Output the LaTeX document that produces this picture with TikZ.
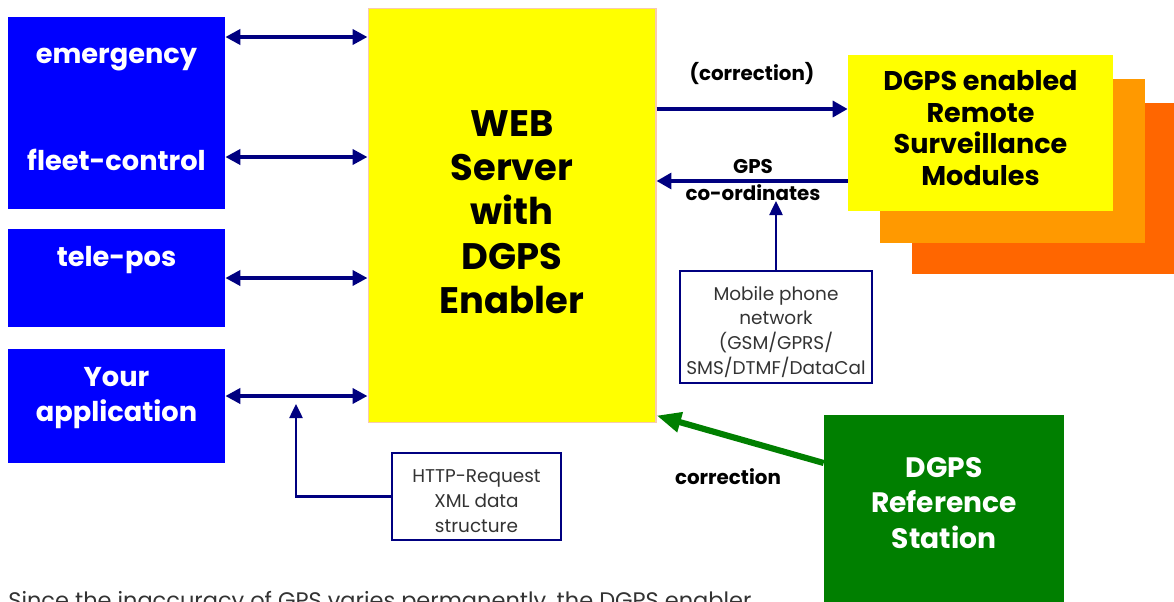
\documentclass[tikz,border=0pt]{standalone}
\usepackage{fontspec}
\setmainfont{Poppins}
\usetikzlibrary{arrows.meta}

\definecolor{appblue}{HTML}{0000FF}
\definecolor{arrownavy}{HTML}{000080}
\definecolor{webyellow}{HTML}{FFFF00}
\definecolor{peach}{HTML}{F8CBAD}
\definecolor{modorange}{HTML}{FF9900}
\definecolor{modred}{HTML}{FF6600}
\definecolor{refgreen}{HTML}{007F00}
\definecolor{thintext}{HTML}{333333}

\tikzset{
  appbox/.style={fill=appblue, minimum width=4.34cm, inner sep=0pt},
  applabel/.style={text=white, font=\bfseries\fontsize{15.5}{19.5}\selectfont, align=center},
  dbl/.style={arrownavy, line width=2.2pt, {Triangle[length=8.5pt,width=8.5pt]}-{Triangle[length=8.5pt,width=8.5pt]}},
  link/.style={arrownavy, line width=2.3pt, -{Triangle[length=8.5pt,width=9pt]}},
  thinlink/.style={arrownavy, line width=1.2pt, -{Triangle[length=8pt,width=7.5pt]}},
  infobox/.style={draw=arrownavy, line width=0.8pt, inner sep=0pt},
  infotext/.style={align=center, text=thintext, font=\fontsize{10.5}{14.2}\selectfont},
  arrowlabel/.style={font=\bfseries\fontsize{11.3}{15.3}\selectfont, align=center},
}

\begin{document}
\begin{tikzpicture}[x=0.02cm, y=-0.02cm]
\useasboundingbox (0,0) rectangle (1174,602);
\clip (0,0) rectangle (1174,602);
% client applications
\node [appbox, minimum height=3.84cm] (apps) at (116.5,113) {};
\node [applabel] (emergency) at (116.5,60) {emergency};
\node [applabel] (fleet) at (116.5,160) {fleet-control};
\node [appbox, minimum height=1.96cm] (telepos) at (116.5,278) {};
\node [applabel] (teleposlabel) at (116.5,260) {tele-pos};
\node [appbox, minimum height=2.28cm] (yourapp) at (116.5,406) {};
\node [applabel] (yourapplabel) at (116.5,398) {Your\\application};
% web server
\node [fill=webyellow, draw=peach, line width=0.6pt, minimum width=5.76cm, minimum height=8.3cm] (web) at (512,215.5) {};
\node [font=\bfseries\fontsize{21}{25.2}\selectfont, align=center] (weblabel) at (512,212) {WEB\\Server\\with\\DGPS\\Enabler};
% remote modules
\node [fill=modred, minimum width=5.24cm, minimum height=3.42cm] (modback) at (1043,188.5) {};
\node [fill=modorange, minimum width=5.3cm, minimum height=3.28cm] (modmid) at (1012.5,161) {};
\node [fill=webyellow, minimum width=5.3cm, minimum height=3.12cm] (modules) at (980.5,133) {};
\node [align=center, font=\bfseries\fontsize{15.4}{18}\selectfont] (modlabel) at (980.5,128) {DGPS enabled\\Remote\\Surveillance\\Modules};
% reference station
\node [fill=refgreen, minimum width=4.8cm, minimum height=3.74cm] (refstation) at (944,508.5) {};
\node [text=white, align=center, font=\bfseries\fontsize{16}{20.4}\selectfont] (reflabel) at (944,503) {DGPS\\Reference\\Station};
% info boxes
\node [infobox, minimum width=3.84cm, minimum height=2.24cm] (mobile) at (776,327) {};
\node [infotext] (mobiletext) at (776,332) {Mobile phone\\network\\(GSM/GPRS/\\SMS/DTMF/DataCal};
\node [infobox, minimum width=3.38cm, minimum height=1.74cm] (http) at (476.5,496.5) {};
\node [infotext] (httptext) at (476.5,501.5) {HTTP-Request\\XML data\\structure};

\coordinate (lvl1) at (0,37);
\coordinate (lvl2) at (0,157);
\coordinate (lvl4) at (0,396);
\coordinate (lvlc) at (0,109);
\coordinate (lvlg) at (0,181);
\coordinate (gpstip) at (773,201);
\coordinate (httptip) at (296,404);
\coordinate (greenstart) at (0,463);

\draw [dbl] (apps.east |- lvl1) -- (web.west |- lvl1);
\draw [dbl] (apps.east |- lvl2) -- (web.west |- lvl2);
\draw [dbl] (telepos.east) -- (telepos.east -| web.west);
\draw [dbl] (yourapp.east |- lvl4) -- (web.west |- lvl4);
\draw [link] (web.east |- lvlc) -- (modules.west |- lvlc);
\draw [link] (modules.west |- lvlg) -- (web.east |- lvlg);
\draw [thinlink] (mobile.north) -- (mobile.north |- gpstip);
\draw [thinlink] (http.west) -| (httptip);
\draw [refgreen, line width=3.5pt, -{Triangle[length=14pt,width=11pt]}] (refstation.west |- greenstart) -- ([yshift=0.16cm]web.south east);

\node [arrowlabel] (corrlabel) at (752,74) {(correction)};
\node [arrowlabel] (gpslabel) at (753,180) {GPS\\co-ordinates};
\node [arrowlabel] (greencorr) at (728,477) {correction};

\node [anchor=base west, inner sep=0pt, text=thintext, font=\fontsize{12.8}{15}\selectfont] (caption) at (8,608) {Since the inaccuracy of GPS varies permanently, the DGPS enabler};
\end{tikzpicture}
\end{document}
